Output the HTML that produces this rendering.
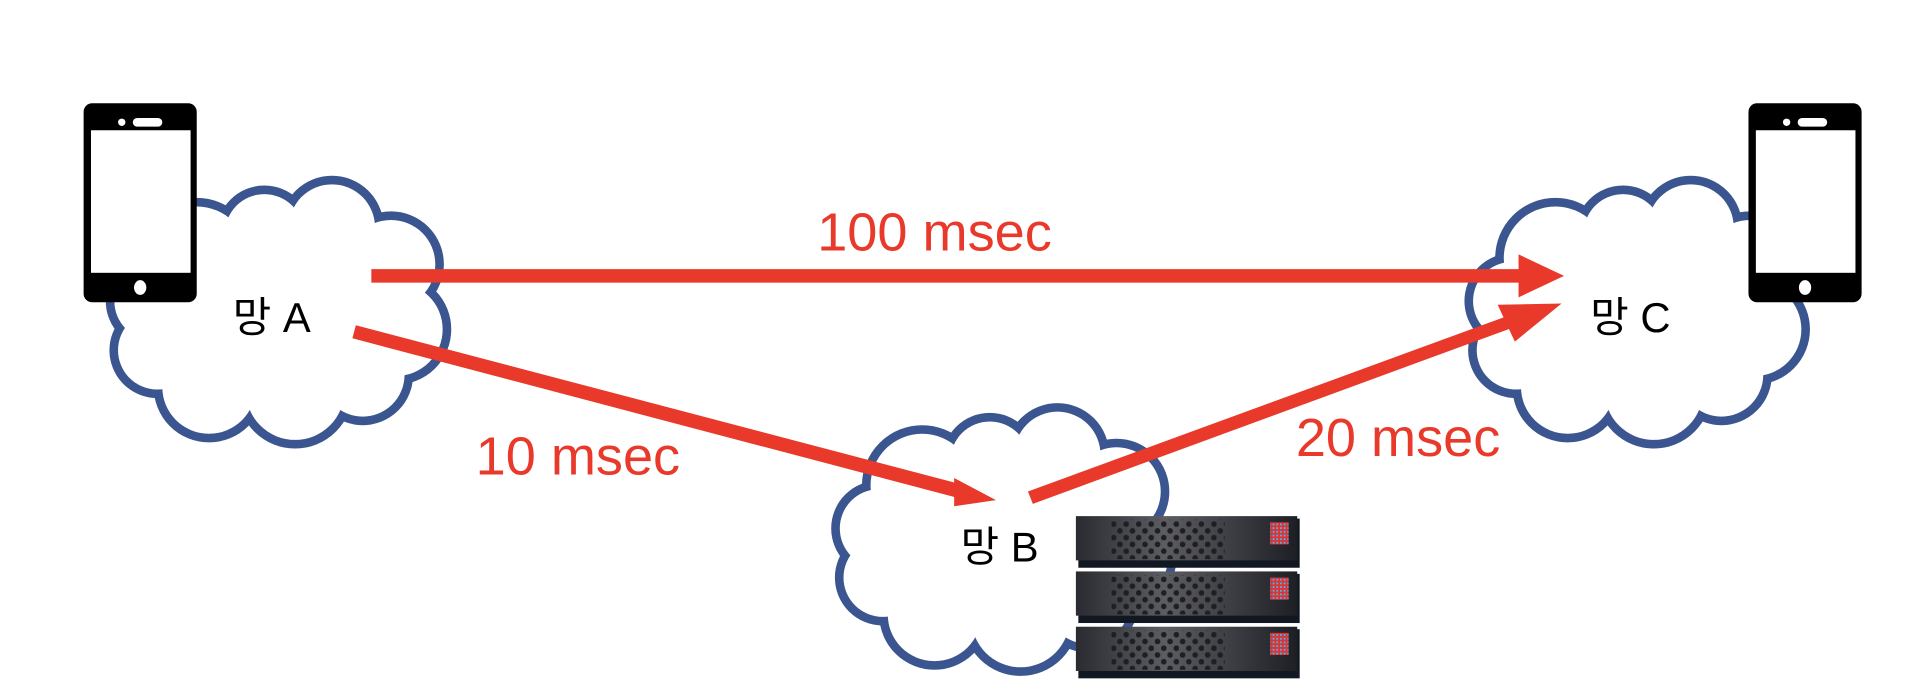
<!DOCTYPE html>
<html><head><meta charset="utf-8"><style>
html,body{margin:0;padding:0;background:#fff;width:1928px;height:698px;overflow:hidden}
svg{display:block}
text{font-family:"Liberation Sans","Noto Sans CJK KR",sans-serif}
</style></head><body>
<svg width="1928" height="698" viewBox="0 0 1568 568" preserveAspectRatio="none" xmlns="http://www.w3.org/2000/svg">
<defs>
<linearGradient id="sg" x1="0" x2="1" y1="0" y2="0">
<stop offset="0" stop-color="#2a2b30"/><stop offset="0.4" stop-color="#5c5d62"/><stop offset="1" stop-color="#1e1f25"/>
</linearGradient>
<pattern id="dots" x="0" y="0" width="10.2" height="11" patternUnits="userSpaceOnUse">
<circle cx="3" cy="3" r="2.3" fill="#1f1f22"/><circle cx="8.1" cy="8.5" r="2.3" fill="#1f1f22"/>
</pattern>
<pattern id="leds" width="3" height="3" patternUnits="userSpaceOnUse">
<rect width="3" height="3" fill="#d33"/><rect width="1.5" height="1.5" fill="#4ab0e8"/>
</pattern>
</defs>
<g id="cA">
<g fill="none" stroke="#3a558f" stroke-width="14">
<circle cx="160" cy="210" r="42"/><circle cx="215" cy="190" r="32"/><circle cx="270" cy="185" r="35"/><circle cx="318" cy="215" r="36"/>
<circle cx="322" cy="268" r="38"/><circle cx="295" cy="305" r="34"/><circle cx="240" cy="318" r="40"/><circle cx="170" cy="315" r="38"/>
<circle cx="128" cy="285" r="32"/><circle cx="125" cy="245" r="32"/>
</g>
<g fill="#fff">
<circle cx="160" cy="210" r="42"/><circle cx="215" cy="190" r="32"/><circle cx="270" cy="185" r="35"/><circle cx="318" cy="215" r="36"/>
<circle cx="322" cy="268" r="38"/><circle cx="295" cy="305" r="34"/><circle cx="240" cy="318" r="40"/><circle cx="170" cy="315" r="38"/>
<circle cx="128" cy="285" r="32"/><circle cx="125" cy="245" r="32"/><ellipse cx="225" cy="255" rx="100" ry="70"/>
</g>
</g>
<use href="#cA" transform="translate(1105,0)"/>
<use href="#cA" transform="translate(590,185)"/>
<g id="ph">
<rect x="68" y="84" width="92" height="162" rx="7" fill="#000"/>
<rect x="74" y="106" width="81" height="116" fill="#fff"/>
<rect x="108" y="96" width="24" height="7" rx="3.5" fill="#fff"/>
<circle cx="99" cy="99.5" r="3" fill="#fff"/>
<ellipse cx="114" cy="234" rx="5" ry="6" fill="#fff"/>
</g>
<use href="#ph" transform="translate(1354,0)"/>
<g fill="#e8392a">
<rect x="302" y="219" width="940" height="11"/>
<polygon points="1235,207 1272,224.5 1235,242"/>
<polygon points="286.6,275.3 289.4,264.7 785,395 782,406"/>
<polygon points="776,389 810,407 776,412"/>
<polygon points="836,400 840,410 1232,266 1229,256"/>
<polygon points="1218,248 1270,247 1232,278"/>
</g>
<text x="760" y="204" font-size="44" fill="#e8392a" text-anchor="middle">100 msec</text>
<text x="470" y="386" font-size="44" fill="#e8392a" text-anchor="middle">10 msec</text>
<text x="1137" y="371" font-size="44" fill="#e8392a" text-anchor="middle">20 msec</text>
<text x="221" y="270" font-size="34" fill="#000" text-anchor="middle">망 A</text>
<text x="813" y="457" font-size="34" fill="#000" text-anchor="middle">망 B</text>
<text x="1326" y="270" font-size="34" fill="#000" text-anchor="middle">망 C</text>
<g id="sv">
<rect x="877" y="422" width="180" height="40" fill="#111822"/>
<rect x="875" y="420" width="180" height="36" fill="url(#sg)"/>
<rect x="904" y="423" width="92" height="32" fill="url(#dots)"/>
<rect x="1033" y="425" width="15" height="18" fill="url(#leds)"/>
</g>
<use href="#sv" transform="translate(0,45)"/>
<use href="#sv" transform="translate(0,90)"/>
</svg>
</body></html>
